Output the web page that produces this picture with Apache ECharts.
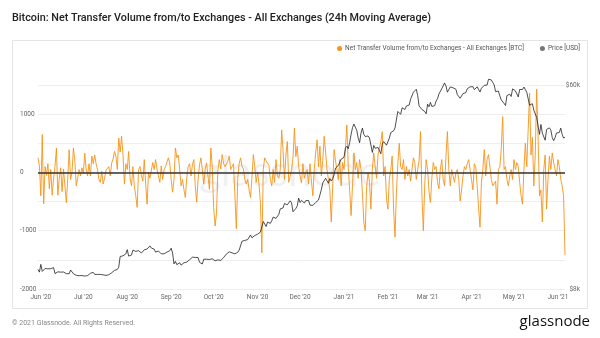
<!DOCTYPE html>
<html>
<head>
<meta charset="utf-8">
<script src="https://cdn.jsdelivr.net/npm/echarts@6/dist/echarts.min.js"></script>
<style>
  html, body { margin: 0; padding: 0; background: #fff; }
  #chart { width: 600px; height: 338px; }
</style>
</head>
<body>
<div id="chart"></div>
<script>
// Daily series, first day 2020-05-30
const startDate = [2020, 4, 30];

// Net transfer volume to/from exchanges, 24h moving average [BTC]
const netFlow = [
  250, 110, -400, 650, -540, 100, -50, 150, -280, 50,
  -390, -100, 100, 420, -390, -100, 80, -330, 60, 50,
  -520, -100, 390, -120, 0, 420, 200, -230, -100, 50,
  -60, 80, -20, 330, 50, -60, 150, -60, 280, 150,
  300, 150, 50, -120, -170, 20, -200, -100, 40, 60,
  100, -60, 160, 230, 360, 280, 50, 590, 350, 620,
  300, -200,
  150, 50, 360, -100, -230, 100, -230, -400, -600, 50,
  100, -50, -150, 220, -200, -545, 0, -100, -130, 170,
  50, 220, 60, -60, -170, 110, -120, 50, 100, 110,
  250, 160, -120, -340, -120, 420, 250, 300, 50, -230,
  -120, -290, -430, -100, 100, 150, -60, 130, 220, -230,
  -510, -120, 130, 250, 50, -200, 50, 160, 170, -290,
  420, 100, -600, -920,
  -700, 50, 220, 60, 305, 150, 100, 80, 190, 280,
  50, 100, 150, -400, -965, -100, 150, 250, 100, 60,
  -120, -200, -120, -300, -430, -100, 305, 100, -170, 0,
  -200, -515, -1380, 50, 250, 200, 180, 120, -120, -230,
  50, -170, 220, -60, -100, 50, 730, 380, -120, 300,
  530, -170, -170, 50, 250, 760, 270, 450, 100, -60,
  -180, 150, -100, 0,
  50, -200, 150, -150, -400, 50, 335, 560, 100, 450,
  -60, 200, 620, 350, 50, -120, -300, -850, -250, 390,
  200, 50, -120, 220, -230, 170, 50, 400, 815, 100,
  -300, -740, -230, 335, 50, 170, -100, 220, 50, -350,
  -850, -1000, -230, 0, -170, -630, 50, 335, 100, -100,
  300, 330, 530, 700, -60, 100, -455, -630, -120, 50,
  280, -630, -1110, -350,
  150, 500, 100, 50, 220, -120, 100, -60, 50, -150,
  -170, 250, 170, -120, 50, 200, 700, -400, -1000, -200,
  220, 50, -330, -515, -100, 170, 50, 100, -170, -280,
  50, 220, -120, -230, 300, 700, 50, -230, 50, -60,
  -170, 0, 50, -120, -490, -300, -60, 100, 50, 150,
  220, 50, -120, -300, 150, 100, -230, -600, -940, -170,
  50, 390, -60,
  220, 305, 100, -120, -230, -200, -150, -545, 50, 100,
  400, 957, 50, 100, -120, -230, -60, 50, -120, 220,
  50, 170, 100, -170, -400, -545, 50, 500, 100, 730,
  1360, 300, 600, -230, 300, 1430, 600, -400, -300, -850,
  50, 300, -630, -120, 280, 50, 335, 170, 50, -60,
  220, 100, -120, -230, -400, -1420
];

// BTC price [USD], daily
const price = [
  9700, 9450,
  10200, 9520, 9660, 9800, 9660, 9760, 9790, 9780, 9780, 9880, 9320, 9480, 9480, 9390, 9450, 9540, 9460, 9390, 9310, 9360, 9300, 9650, 9620, 9300, 9250, 9160, 9000, 9120, 9190, 9140,
  9230, 9090, 9060, 9130, 9070, 9340, 9250, 9430, 9240, 9290, 9240, 9300, 9240, 9250, 9200, 9130, 9150, 9170, 9210, 9160, 9390, 9540, 9610, 9550, 9710, 9930, 11030, 10940, 11100, 11110, 11320,
  11800, 11070, 11230, 11190, 11740, 11770, 11600, 11750, 11680, 11880, 11410, 11580, 11780, 11770, 11870, 11910, 12250, 11990, 11760, 11860, 11520, 11680, 11650, 11750, 11320, 11460, 11330, 11540, 11510, 11680, 11680,
  11970, 11410, 10250, 10510, 10170, 10280, 10370, 10130, 10240, 10360, 10400, 10440, 10330, 10680, 10790, 10950, 10940, 10930, 11080, 10920, 10420, 10530, 10240, 10740, 10690, 10730, 10770, 10710, 10840, 10780,
  10620, 10570, 10550, 10670, 10790, 10600, 10670, 10920, 11060, 11300, 11380, 11550, 11430, 11430, 11500, 11320, 11370, 11500, 11750, 11920, 12820, 12970, 12930, 13110, 13030, 13070, 13640, 13270, 13460, 13560, 13780,
  13740, 13550, 14030, 14130, 15580, 15570, 14830, 15480, 15330, 15300, 15700, 16280, 16320, 16070, 15950, 16720, 17650, 17780, 17820, 18620, 18680, 18370, 18360, 19110, 18730, 17150, 17140, 17720, 18180, 19630,
  18800, 19200, 19450, 18700, 19150, 19360, 19170, 18320, 18550, 18260, 18060, 18800, 19170, 19270, 19440, 21310, 22810, 23140, 23870, 23480, 22740, 23820, 23240, 23740, 24660, 26440, 26270, 27080, 27360, 28840, 29000,
  29370, 32130, 32780, 31970, 33990, 36820, 39370, 40800, 40250, 38360, 35570, 33920, 37320, 39190, 36830, 36070, 35550, 36270, 35550, 35600, 30820, 33010, 32100, 32290, 32370, 32570, 30430, 33470, 34320, 34320, 33110,
  33540, 35510, 37470, 36930, 38140, 39270, 38900, 46200, 46480, 44920, 47910, 47500, 47100, 48720, 47940, 49200, 52150, 51680, 55890, 55920, 57490, 54210, 48820, 49710, 47090, 46340, 46190, 45140,
  49630, 48380, 50540, 48560, 48930, 48910, 51210, 52380, 54880, 55960, 57810, 57330, 61240, 59340, 55910, 56800, 58870, 57860, 58350, 58310, 57520, 54530, 54740, 52630, 51700, 55140, 55970, 55640, 57800, 58770, 58920,
  59100, 59030, 57270, 58150, 58950, 57910, 56000, 58090, 58100, 59770, 59960, 59990, 63500, 62970, 63110, 61530, 60070, 56220, 55780, 56470, 53900, 51760, 51090, 50050, 49000, 54020, 55030, 54820, 53560, 57750,
  57830, 56630, 57200, 53330, 57420, 56400, 57360, 58800, 58230, 55860, 56700, 49150, 49720, 49880, 46760, 46430, 43540, 42910, 36830, 40630, 37300, 37540, 34770, 38700, 38400, 39290, 38440, 35690, 34620, 35680, 37340,
  36680, 37570, 39190, 36830, 35520, 35800
];

// Axis settings
const flowTicks = { min: -2000, max: 1500, step: 500, labelEvery: 1000 };
const priceLabels = { 8000: '$8k', 60000: '$60k' };
const monthNames = ['Jan', 'Feb', 'Mar', 'Apr', 'May', 'Jun', 'Jul', 'Aug', 'Sep', 'Oct', 'Nov', 'Dec'];

const flowName = 'Net Transfer Volume from/to Exchanges - All Exchanges [BTC]';
const priceName = 'Price [USD]';

const dates = [];
const t0 = Date.UTC(startDate[0], startDate[1], startDate[2]);
for (let i = 0; i < netFlow.length; i++) {
  dates.push(new Date(t0 + i * 86400000).toISOString().slice(0, 10));
}

const axisText = { color: '#666', fontSize: 6.5, fontFamily: 'Roboto' };

const chart = echarts.init(document.getElementById('chart'), null, { renderer: 'canvas' });
chart.setOption({
  animation: false,
  backgroundColor: '#fff',
  title: {
    text: 'Bitcoin: Net Transfer Volume from/to Exchanges - All Exchanges (24h Moving Average)',
    left: 12, top: 13, padding: 0,
    textStyle: { fontSize: 10.8, fontWeight: 500, color: '#222', fontFamily: 'Roboto' }
  },
  legend: {
    right: 20, top: 45, padding: 0,
    icon: 'circle', itemWidth: 5, itemHeight: 5, itemGap: 16,
    textStyle: { fontSize: 6.5, color: '#555', fontFamily: 'Roboto', padding: [0, 0, 0, -2] },
    data: [flowName, priceName]
  },
  grid: { left: 38, right: 35, top: 85, bottom: 49 },
  xAxis: {
    type: 'category',
    data: dates,
    boundaryGap: false,
    axisLine: { lineStyle: { color: '#e6e6e6' } },
    axisTick: { show: false },
    splitLine: { show: false },
    axisLabel: Object.assign({}, axisText, {
      margin: 5,
      interval: (i, v) => v.slice(8) === '01',
      formatter: v => monthNames[+v.slice(5, 7) - 1] + " '" + v.slice(2, 4)
    })
  },
  yAxis: [
    {
      type: 'value', position: 'left',
      min: flowTicks.min, max: flowTicks.max, interval: flowTicks.step,
      axisLine: { show: false }, axisTick: { show: false },
      splitLine: { lineStyle: { color: '#eeeeee', width: 1 } },
      axisLabel: Object.assign({}, axisText, {
        align: 'left', margin: 18, verticalAlign: 'middle', padding: [0, 0, 4, 0],
        formatter: v => (v % flowTicks.labelEvery === 0 ? String(v) : '')
      })
    },
    {
      type: 'log', logBase: 10, position: 'right',
      min: 8000, max: 60000,
      axisLine: { show: false }, axisTick: { show: false },
      splitLine: { show: false },
      axisLabel: Object.assign({}, axisText, {
        align: 'right', margin: 15, verticalAlign: 'middle', padding: [0, 0, 4, 0],
        showMinLabel: true, showMaxLabel: true,
        formatter: v => {
          const r = Math.round(v);
          for (const k in priceLabels) {
            if (Math.abs(r - Number(k)) < 2) return priceLabels[k];
          }
          return '';
        }
      })
    }
  ],
  series: [
    {
      name: flowName, type: 'line', yAxisIndex: 0,
      data: netFlow, symbol: 'none', z: 2,
      lineStyle: { color: '#f7931a', width: 1, opacity: 0.9 },
      itemStyle: { color: '#f7931a' },
      markLine: {
        silent: true, symbol: 'none', animation: false,
        label: { show: false },
        lineStyle: { color: '#333', width: 1.5, type: 'solid', opacity: 1 },
        data: [{ yAxis: 0 }]
      }
    },
    {
      name: priceName, type: 'line', yAxisIndex: 1,
      data: price, symbol: 'none', z: 3, clip: false,
      lineStyle: { color: '#222', width: 0.8 },
      itemStyle: { color: '#777' }
    }
  ],
  graphic: [
    {
      type: 'rect', z: -10, silent: true,
      shape: { x: 12.5, y: 40.5, width: 575, height: 268 },
      style: { fill: 'none', stroke: '#e4e4e4', lineWidth: 1 }
    },
    {
      type: 'text', z: -5, silent: true, x: 290, y: 172,
      style: { text: 'glassnode', font: '42px Lato', fill: 'rgba(0,0,0,0.06)', textAlign: 'center', textVerticalAlign: 'middle' }
    },
    {
      type: 'text', silent: true, x: 12, y: 323,
      style: { text: '© 2021 Glassnode. All Rights Reserved.', font: '7px Roboto', fill: '#888', textVerticalAlign: 'middle' }
    },
    {
      type: 'text', silent: true, x: 590, y: 322,
      style: { text: 'glassnode', font: '500 15px "Open Sans"', fill: '#111', textAlign: 'right', textVerticalAlign: 'middle' }
    }
  ]
});
</script>
</body>
</html>
